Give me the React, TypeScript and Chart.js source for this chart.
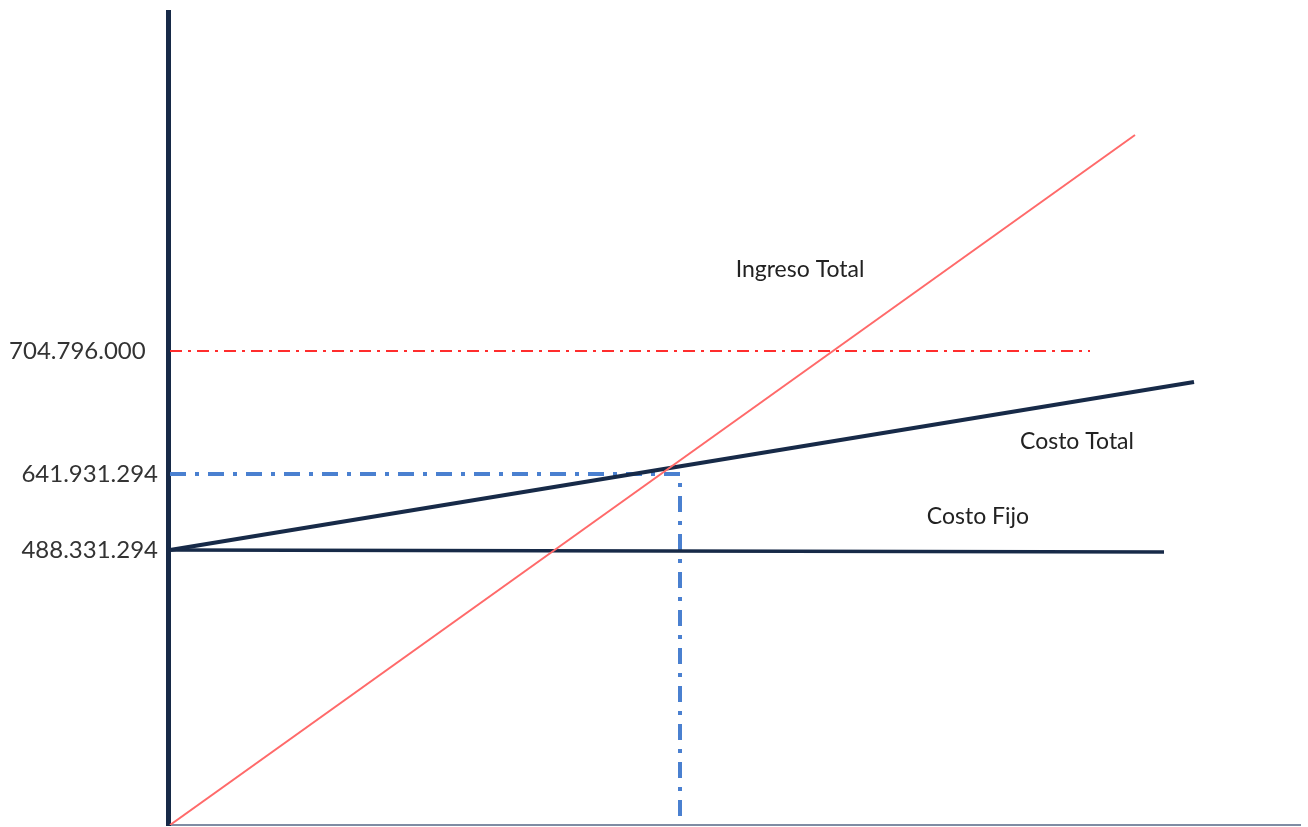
import React, { useEffect, useRef } from "react";
import { Chart, registerables } from "chart.js";

Chart.register(...registerables);

// Schematic break-even chart (units are arbitrary chart units)
const yTickValues = [275, 351, 474];
const yTickLabels = ["488.331.294", "641.931.294", "704.796.000\u00a0\u00a0"];

const ingresoX = [2, 967];
const ingresoY = [0, 690];
const costoTotalX = [2, 1026];
const costoTotalY = [275, 443];
const costoFijoX = [2, 996];
const costoFijoY = [275, 273];
const ventasRefX = [2, 922];
const ventasRefY = [474, 474];
const equilibrioX = [2, 512, 512];
const equilibrioY = [351, 351, 0];

const annotationTexts = ["Ingreso Total", "Costo Total", "Costo Fijo"];
const annotationX = [632, 909, 810];
const annotationY = [555, 383, 308];

const pts = (xs: number[], ys: number[]) => xs.map((x, i) => ({ x, y: ys[i] }));

const textPlugin = {
  id: "textLabels",
  afterDatasetsDraw(chart: any) {
    const { ctx, scales } = chart;
    ctx.save();
    ctx.font = "23px Lato";
    ctx.fillStyle = "#222";
    ctx.textAlign = "center";
    ctx.textBaseline = "middle";
    annotationTexts.forEach((t, i) => {
      ctx.fillText(t, scales.x.getPixelForValue(annotationX[i]), scales.y.getPixelForValue(annotationY[i]));
    });
    ctx.restore();
  },
};

const zeroPad = (s: any) => {
  s.paddingTop = 0;
  s.paddingBottom = 0;
  s.paddingLeft = 0;
  s.paddingRight = 0;
};

export default function App() {
  const ref = useRef<HTMLCanvasElement>(null);
  useEffect(() => {
    if (!ref.current) return;
    const chart = new Chart(ref.current, {
      type: "line",
      data: {
        datasets: [
          { label: "Ingreso Total", data: pts(ingresoX, ingresoY), borderColor: "#ff6a6a", borderWidth: 2 },
          { label: "Costo Total", data: pts(costoTotalX, costoTotalY), borderColor: "#172a48", borderWidth: 4 },
          { label: "Costo Fijo", data: pts(costoFijoX, costoFijoY), borderColor: "#172a48", borderWidth: 3.5 },
          { label: "Ventas", data: pts(ventasRefX, ventasRefY), borderColor: "#ff2d2d", borderWidth: 2, borderDash: [12, 6, 3, 6] },
          { label: "Equilibrio", data: pts(equilibrioX, equilibrioY), borderColor: "#4a80d0", borderWidth: 4, borderDash: [16, 9, 4, 9] },
        ],
      },
      options: {
        responsive: false,
        animation: false,
        layout: { padding: { top: 12, right: 8, bottom: 0, left: 0 } },
        elements: { point: { radius: 0 }, line: { tension: 0 } },
        plugins: { legend: { display: false }, tooltip: { enabled: false } },
        scales: {
          x: {
            type: "linear",
            min: 0,
            max: 1132,
            grid: { display: false, drawTicks: false },
            border: { display: true, color: "#7f8ca3", width: 2 },
            ticks: { display: false },
            afterFit: (s: any) => { s.height = 2; zeroPad(s); },
          },
          y: {
            type: "linear",
            min: 0,
            max: 813,
            grid: { display: false, drawTicks: false },
            border: { display: true, color: "#172a48", width: 5 },
            afterBuildTicks: (s: any) => { s.ticks = yTickValues.map((v) => ({ value: v })); },
            afterFit: (s: any) => { s.width = 168; zeroPad(s); },
            ticks: {
              padding: 10,
              font: { family: "Lato", size: 24 },
              color: "#333",
              callback: (v: any) => {
                const i = yTickValues.indexOf(Number(v));
                return i >= 0 ? yTickLabels[i] : "";
              },
            },
          },
        },
      },
      plugins: [textPlugin],
    });
    return () => chart.destroy();
  }, []);
  return (
    <div style={{ position: "absolute", left: 0, top: 0, width: 1308, height: 827, background: "#fff" }}>
      <canvas ref={ref} width={1308} height={827} />
    </div>
  );
}
